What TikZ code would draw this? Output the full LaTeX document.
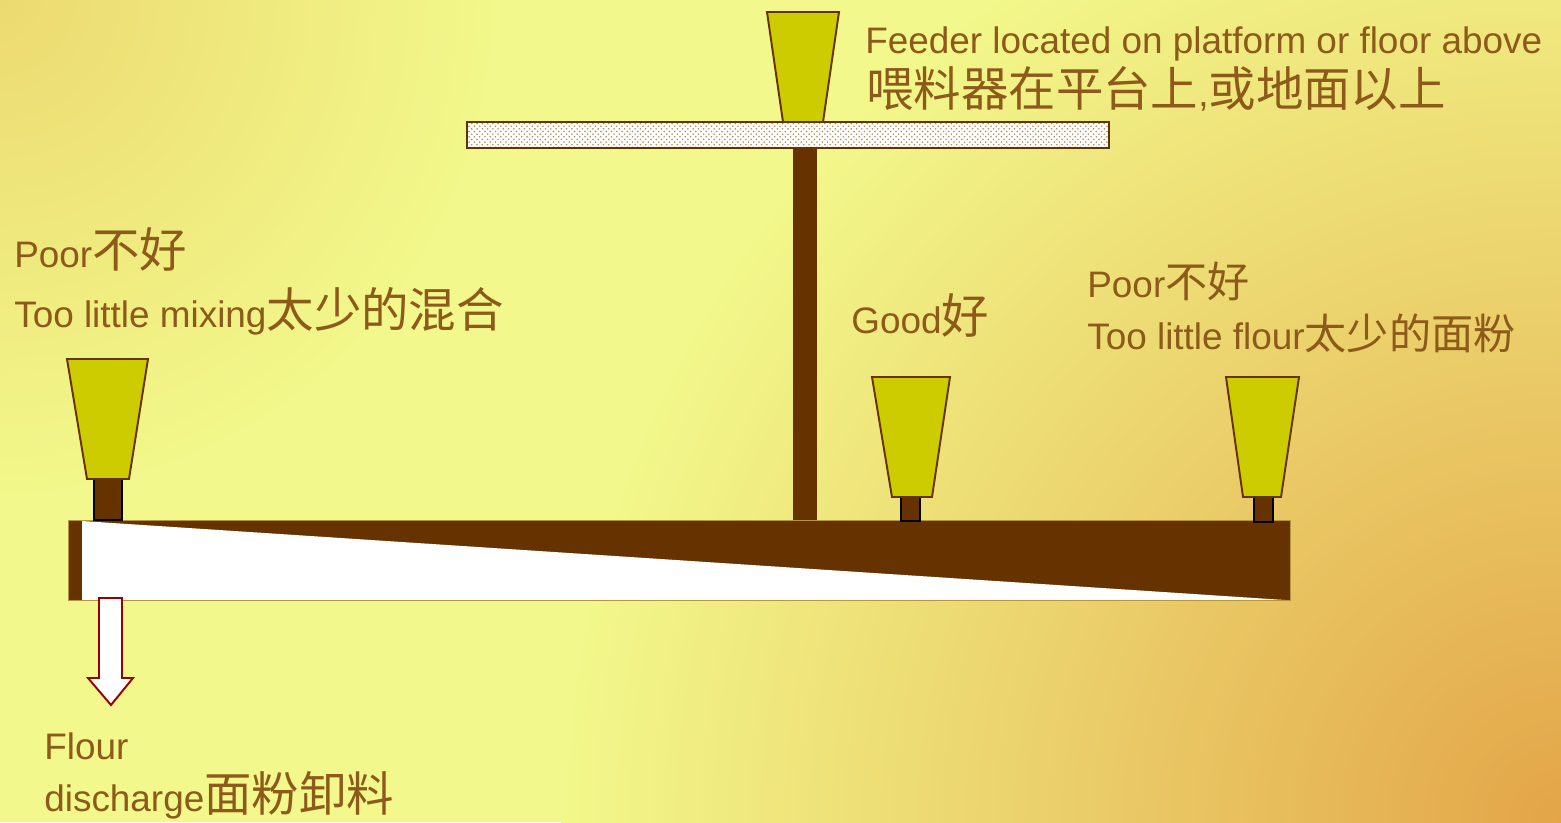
\documentclass[tikz,border=0pt]{standalone}
\usepackage{fontspec}
\setmainfont{Liberation Sans}
\newfontfamily\cjkfont{Noto Sans CJK SC}
\usetikzlibrary{patterns}

\definecolor{bgLight}{HTML}{F2F88B}
\definecolor{bgOrange}{HTML}{E3A548}
\definecolor{bgCorner}{HTML}{ECDA70}
\definecolor{brownC}{HTML}{663300}
\definecolor{hopperC}{HTML}{CCCC00}
\definecolor{txtC}{RGB}{140,90,25}
\definecolor{arrowC}{HTML}{990000}
\definecolor{dotC}{HTML}{B48A5A}
\definecolor{edgeC}{HTML}{B8963C}

% Chinese text, regular and slightly smaller
\newcommand{\zh}[1]{{\cjkfont\fontsize{27pt}{32pt}\selectfont #1}}
\newcommand{\zhs}[1]{{\cjkfont\fontsize{24pt}{28pt}\selectfont #1}}

% warm glow from the lower right corner, slight shade in the upper left
\pgfdeclareradialshading{warmglow}{\pgfpoint{0bp}{0bp}}%
  {color(0bp)=(bgOrange); color(25bp)=(bgLight); color(50bp)=(bgLight)}
\pgfdeclareradialshading{cornershade}{\pgfpoint{0bp}{0bp}}%
  {color(0bp)=(bgCorner); color(25bp)=(bgLight); color(50bp)=(bgLight)}

\begin{document}
\begin{tikzpicture}[x=0.02cm,y=-0.02cm,
  hopper/.style={fill=hopperC, draw=brownC, line width=1.1pt, line join=miter},
  spout/.style={fill=brownC, draw=black, line width=0.9pt},
  lbl/.style={anchor=base west, inner sep=0pt, text=txtC,
              font=\fontsize{21pt}{25pt}\selectfont}]

\useasboundingbox (0,0) rectangle (1561,822);

% background
\begin{scope}
  \clip (0,0) rectangle (1561,822);
  \fill[bgLight] (0,0) rectangle (1561,822);
  \shade[shading=warmglow] (1561,822) circle (20cm);
  \shade[shading=cornershade] (0,0) circle (10cm);
\end{scope}

% upper feeder on the platform
\draw[hopper] (767,12) -- (839,12) -- (823,122) -- (783,122) -- cycle;
\fill[white] (467,122) rectangle (1109,148);
\path[pattern=crosshatch dots, pattern color=dotC] (467,122) rectangle (1109,148);
\draw[brownC, line width=1.1pt] (467,122) rectangle (1109,148);

% down pipe
\fill[brownC] (793,148) rectangle (817,520);

% mixing conveyor with the flour layer
\fill[brownC] (68,520) rectangle (1290,600);
\fill[white] (82,521) -- (1285,600) -- (82,600) -- cycle;
\draw[edgeC, line width=0.5pt] (68,520) rectangle (1290,600);

% feeders along the conveyor
\draw[spout] (94,479) rectangle (122,520);
\draw[hopper] (67,359) -- (148,359) -- (129,479) -- (87,479) -- cycle;
\draw[spout] (901,497) rectangle (920,521);
\draw[hopper] (872,377) -- (950,377) -- (932,497) -- (892,497) -- cycle;
\draw[spout] (1254,497) rectangle (1273,522);
\draw[hopper] (1226,377) -- (1299,377) -- (1281,497) -- (1243,497) -- cycle;

% discharge arrow
\draw[fill=white, draw=arrowC, line width=1.1pt, line join=miter]
  (99,598) -- (122,598) -- (122,678) -- (133,678) -- (111,705)
  -- (88,678) -- (99,678) -- cycle;

% labels
\node[lbl] (feedEn) at (865,53) {Feeder located on platform or floor above};
\node[lbl] (feedZh) at (866,106) {\zh{喂料器在平台上},\zh{或地面以上}};
\node[lbl] (leftA) at (14,267) {Poor\zh{不好}};
\node[lbl] (leftB) at (14,327) {Too little mixing\zh{太少的混合}};
\node[lbl] (good) at (851,333) {Good\zh{好}};
\node[lbl] (rightA) at (1087,297) {Poor\zhs{不好}};
\node[lbl] (rightB) at (1087,349) {Too little flour\zhs{太少的面粉}};
\node[lbl] (flourA) at (44,759) {Flour};
\node[lbl] (flourB) at (44,811) {discharge\zh{面粉卸料}};

\end{tikzpicture}
\end{document}
